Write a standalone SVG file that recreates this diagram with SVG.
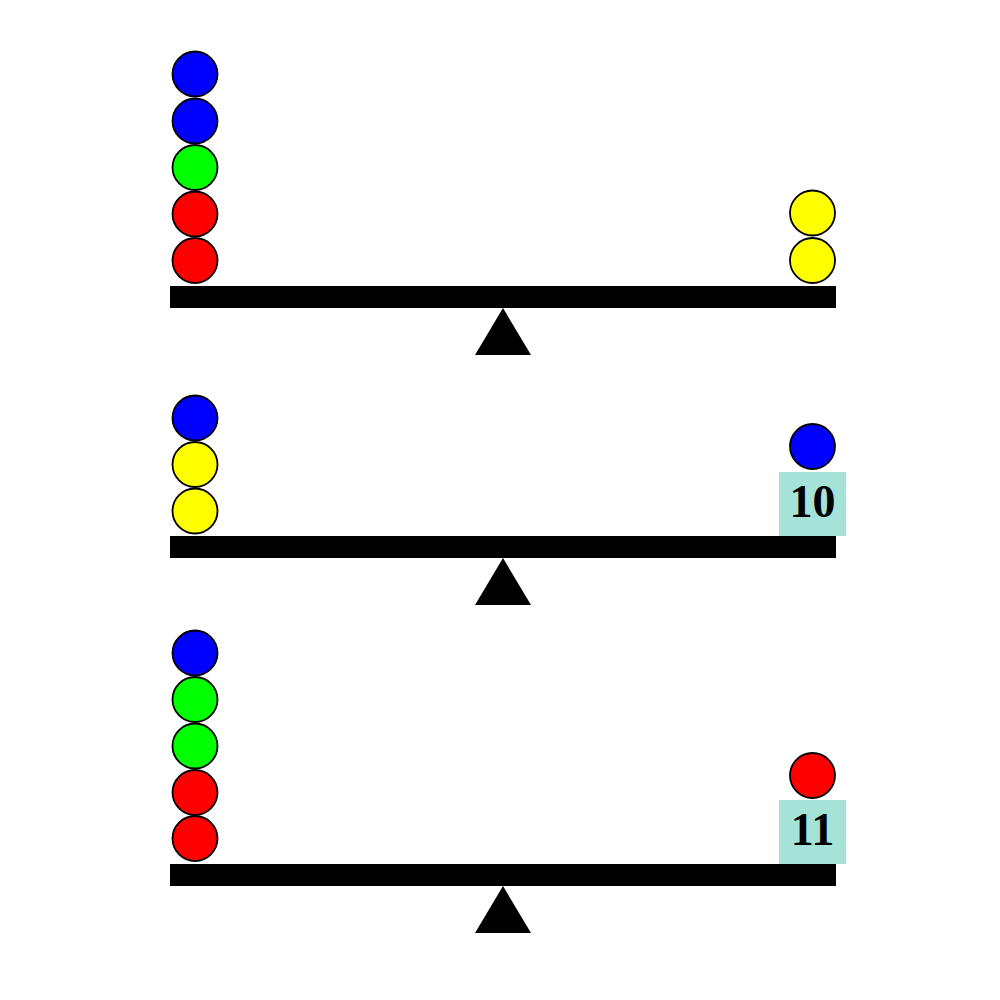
<svg xmlns="http://www.w3.org/2000/svg" width="1000" height="1000" viewBox="0 0 1000 1000">
<style>
.bar{fill:#000}
.ful{fill:#000}
.b{stroke:#000;stroke-width:1.8}
.blue{fill:#0000ff}
.green{fill:#00ff00}
.red{fill:#ff0000}
.yellow{fill:#ffff00}
.box{fill:#a5e3d8}
.lbl{font-family:"Liberation Serif",serif;font-weight:bold;font-size:46px;fill:#000;text-anchor:middle}
</style>
<rect width="1000" height="1000" fill="#fff"/>
<g id="scale1">
<rect class="bar" x="170" y="286" width="666" height="22"/>
<polygon class="ful" points="503,308 475,355 531,355"/>
<g id="s1-left">
<circle class="b blue" cx="195" cy="74" r="22.5"/>
<circle class="b blue" cx="195" cy="121" r="22.5"/>
<circle class="b green" cx="195" cy="167.5" r="22.5"/>
<circle class="b red" cx="195" cy="214" r="22.5"/>
<circle class="b red" cx="195" cy="260.5" r="22.5"/>
</g>
<g id="s1-right">
<circle class="b yellow" cx="812.5" cy="213" r="22.5"/>
<circle class="b yellow" cx="812.5" cy="260.5" r="22.5"/>
</g>
</g>
<g id="scale2">
<rect class="bar" x="170" y="536" width="666" height="22"/>
<polygon class="ful" points="503,558 475,605 531,605"/>
<g id="s2-left">
<circle class="b blue" cx="195" cy="418" r="22.5"/>
<circle class="b yellow" cx="195" cy="464.5" r="22.5"/>
<circle class="b yellow" cx="195" cy="511" r="22.5"/>
</g>
<g id="s2-right">
<circle class="b blue" cx="812.5" cy="446.5" r="22.5"/>
<rect class="box" x="779" y="472" width="67" height="64"/>
<text class="lbl" x="812.5" y="517">10</text>
</g>
</g>
<g id="scale3">
<rect class="bar" x="170" y="864" width="666" height="22"/>
<polygon class="ful" points="503,886 475,933 531,933"/>
<g id="s3-left">
<circle class="b blue" cx="195" cy="653" r="22.5"/>
<circle class="b green" cx="195" cy="699.5" r="22.5"/>
<circle class="b green" cx="195" cy="746" r="22.5"/>
<circle class="b red" cx="195" cy="792.5" r="22.5"/>
<circle class="b red" cx="195" cy="838.5" r="22.5"/>
</g>
<g id="s3-right">
<circle class="b red" cx="812.5" cy="775.5" r="22.5"/>
<rect class="box" x="779" y="800" width="67" height="64"/>
<text class="lbl" x="812.5" y="845">11</text>
</g>
</g>
</svg>
